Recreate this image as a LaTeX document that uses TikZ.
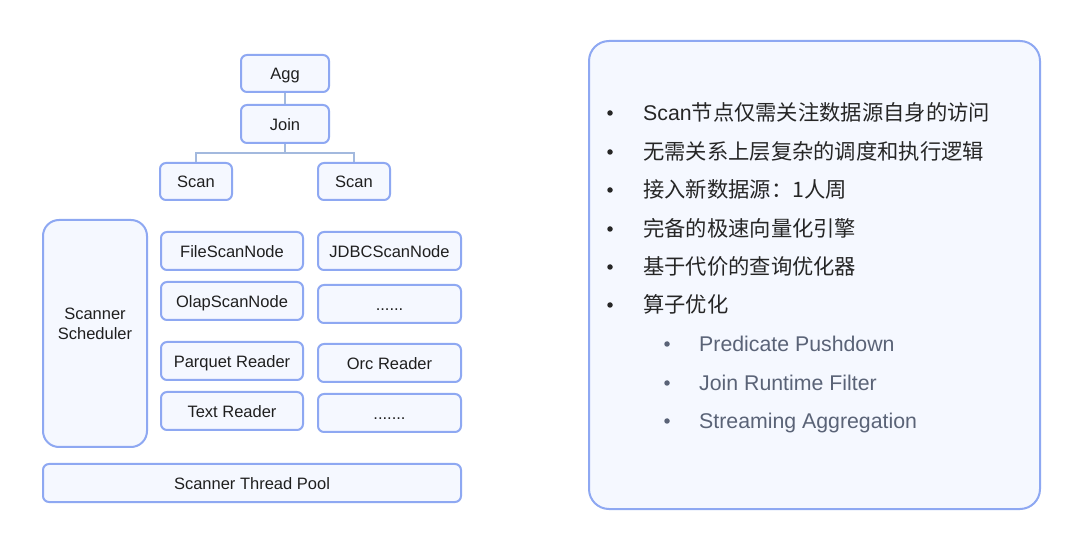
\documentclass[tikz,border=0pt]{standalone}
\usepackage{fontspec}
\setmainfont{Liberation Sans}
\newfontfamily\cjk{Noto Sans CJK SC}
\definecolor{boxline}{HTML}{8EA8F2}
\definecolor{boxfill}{HTML}{F5F8FF}
\definecolor{linkline}{HTML}{A3B9DE}
\definecolor{subtext}{HTML}{5A6377}
\tikzset{
  blk/.style={draw=boxline,fill=boxfill,line width=2pt,rounded corners=6pt,inner sep=0pt,
    text=black!88,font=\fontsize{16.5}{20}\selectfont,text height=14.5pt,text depth=1.5pt},
  link/.style={draw=linkline,line width=1.2pt},
  item/.style={anchor=west,inner sep=0pt,text=black!85,font=\fontsize{21.3}{25}\selectfont,
    text height=20pt,text depth=4.7pt},
  subitem/.style={item,text=subtext},
  dot/.style={circle,inner sep=0pt,minimum size=5.5pt}
}
\begin{document}
\begin{tikzpicture}[x=1pt,y=-1pt]
\useasboundingbox[fill=white] (0,0) rectangle (1080,545);

% plan tree
\node[blk,minimum width=88pt,minimum height=37pt] (agg) at (285,73.5) {Agg};
\node[blk,minimum width=88pt,minimum height=38pt] (join) at (285,124) {Join};
\node[blk,minimum width=72pt,minimum height=37pt] (scanA) at (196,181.5) {Scan};
\node[blk,minimum width=72pt,minimum height=37pt] (scanB) at (354,181.5) {Scan};
\draw[link] (agg) -- (join);
\draw[link] (join.south) -- ++(0,9) -| (scanA.north);
\draw[link] (join.south) -- ++(0,9) -| (scanB.north);

% scan framework
\node[blk,minimum width=104pt,minimum height=227pt,rounded corners=16pt] (sched) at (95,333.5) {};
\node[align=center,inner sep=0pt,text=black!88,font=\fontsize{16.5}{20}\selectfont] (schedtxt)
  at ([yshift=10pt]sched.center) {Scanner\\Scheduler};
\node[blk,minimum width=142pt,minimum height=38pt] (filescan) at (232,251) {FileScanNode};
\node[blk,minimum width=142pt,minimum height=38pt] (olapscan) at (232,301) {OlapScanNode};
\node[blk,minimum width=143pt,minimum height=38pt] (jdbcscan) at (389.5,251) {JDBCScanNode};
\node[blk,minimum width=143pt,minimum height=38pt] (morescan) at (389.5,304) {......};
\node[blk,minimum width=142pt,minimum height=38pt] (parquet) at (232,361) {Parquet Reader};
\node[blk,minimum width=142pt,minimum height=38pt] (textrd) at (232,411) {Text Reader};
\node[blk,minimum width=143pt,minimum height=38pt] (orc) at (389.5,363) {Orc Reader};
\node[blk,minimum width=143pt,minimum height=38pt] (morerd) at (389.5,413) {.......};
\node[blk,minimum width=418pt,minimum height=38pt] (pool) at (252,483) {Scanner Thread Pool};

% feature panel
\node[blk,minimum width=451pt,minimum height=468pt,rounded corners=20pt] (panel) at (814.5,275) {};
\foreach \y/\txt [count=\i] in {113/{Scan{\cjk 节点仅需关注数据源自身的访问}},
    152/{\cjk 无需关系上层复杂的调度和执行逻辑},
    190/{\cjk 接入新数据源：1人周},
    229/{\cjk 完备的极速向量化引擎},
    267/{\cjk 基于代价的查询优化器},
    305/{\cjk 算子优化}}{
  \node[dot,fill=black!85] (dot\i) at (610,\y) {};
  \node[item] (feat\i) at (643,\y) {\txt};
}
\foreach \y/\txt [count=\i] in {344/Predicate Pushdown,383/Join Runtime Filter,421/Streaming Aggregation}{
  \node[dot,fill=subtext] (subdot\i) at (667,\y) {};
  \node[subitem] (opt\i) at (699,\y) {\txt};
}
\end{tikzpicture}
\end{document}
